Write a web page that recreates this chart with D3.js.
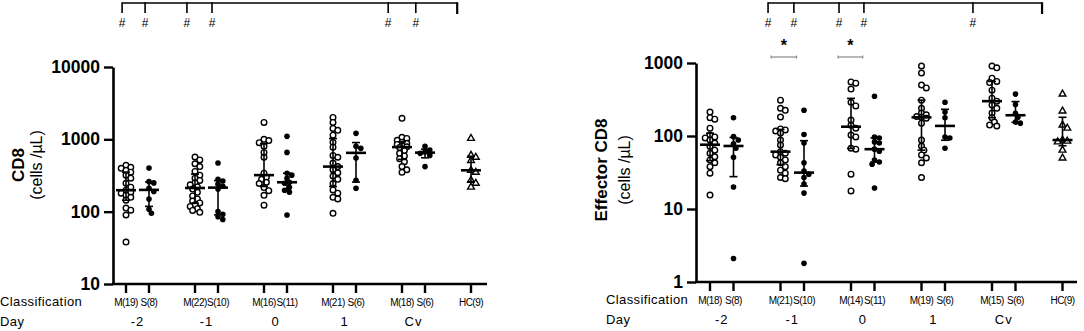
<!DOCTYPE html>
<html>
<head>
<meta charset="utf-8">
<script src="https://cdn.jsdelivr.net/npm/d3@7"></script>
<style>
  body { margin: 0; background: #fff; }
  svg { font-family: "Liberation Sans", Arial, sans-serif; }
</style>
</head>
<body>
<svg id="chart" width="1084" height="331"></svg>
<script>
// Group labels (slot = position along the x axis)
const groupLabelsCD8 = ["M(19)", "S(8)", "M(22)", "S(10)", "M(16)", "S(11)", "M(21)", "S(6)", "M(18)", "S(6)", "HC(9)"];
const groupLabelsEff = ["M(18)", "S(8)", "M(21)", "S(10)", "M(14)", "S(11)", "M(19)", "S(6)", "M(15)", "S(6)", "HC(9)"];
const groupSlots = [0, 1, 3, 4, 6, 7, 9, 10, 12, 13, 15];
const groupKinds = ["M", "S", "M", "S", "M", "S", "M", "S", "M", "S", "HC"];
const dayLabels = ["-2", "-1", "0", "1", "Cv"];
const daySlots = [0.5, 3.5, 6.5, 9.5, 12.5];

// CD8 (cells/uL)
const cd8Values = [
  [438, 411, 398, 373, 351, 319, 290, 247, 218, 198, 186, 180, 169, 158, 144, 112, 105, 90, 38],
  [400, 260, 250, 210, 190, 150, 108, 95],
  [570, 520, 460, 420, 360, 320, 290, 270, 250, 235, 220, 205, 185, 165, 150, 140, 132, 125, 118, 110, 104, 98],
  [470, 280, 265, 240, 225, 205, 100, 92, 85, 78],
  [1715, 1000, 960, 900, 800, 660, 565, 340, 300, 280, 255, 245, 215, 195, 168, 123],
  [1100, 660, 340, 320, 290, 255, 247, 218, 198, 186, 90],
  [2010, 1715, 1415, 1330, 1140, 910, 780, 600, 565, 470, 420, 380, 345, 310, 280, 245, 200, 180, 158, 150, 95],
  [1210, 800, 750, 550, 272, 211],
  [1950, 1065, 1030, 970, 910, 880, 850, 820, 790, 770, 700, 640, 590, 540, 490, 420, 380, 350],
  [800, 710, 670, 640, 600, 420],
  [1030, 600, 565, 510, 373, 350, 272, 247, 218]
];

// Effector CD8 (cells/uL)
const effValues = [
  [213, 178, 170, 128, 103, 97, 94, 88, 80, 72, 64, 58, 52, 47, 43, 38, 31, 15.5],
  [178, 98, 88, 78, 68, 51, 20, 2.1],
  [310, 240, 225, 182, 125, 121, 117, 110, 88, 75, 61, 58, 55, 51, 47, 43, 38, 34, 31, 27, 26],
  [225, 105, 80, 43, 33, 30, 27, 22, 16.5, 1.8],
  [550, 530, 440, 290, 258, 165, 140, 128, 103, 97, 68, 66, 30, 17.7],
  [350, 97, 94, 83, 80, 66, 62, 47, 44, 41, 19.4],
  [910, 730, 500, 455, 310, 240, 206, 195, 185, 180, 175, 150, 88, 73, 64, 55, 50, 43, 27],
  [290, 213, 178, 97, 94, 68],
  [910, 860, 620, 560, 540, 425, 330, 300, 265, 240, 206, 178, 155, 141, 137],
  [375, 270, 205, 180, 155, 150],
  [375, 220, 141, 128, 88, 85, 83, 64, 50]
];

const cd8Ticks = [10, 100, 1000, 10000];
const effTicks = [1, 10, 100, 1000];

// significance annotations (in slot units)
const cd8HashSlots = [-0.17, 0.83, 2.65, 3.74, 11.4, 12.6];
const cd8BracketEnd = 14.4;
const effHashSlots = [2.47, 3.57, 5.49, 6.55, 11.19];
const effBracketEnd = 14.13;
const effStarPairs = [[2.6, 3.68], [5.45, 6.5]];

const svg = d3.select("#chart");

// GraphPad-style percentile (n+1 basis)
function pct(sorted, p) {
  const n = sorted.length;
  const pos = p * (n + 1);
  if (pos <= 1) return sorted[0];
  if (pos >= n) return sorted[n - 1];
  const lo = Math.floor(pos), f = pos - lo;
  return sorted[lo - 1] + f * (sorted[lo] - sorted[lo - 1]);
}

// simple deterministic beeswarm offsets (points may overlap a little)
function swarm(ys, minDist, step, maxK) {
  const placed = [];
  return ys.map(y => {
    let best = 0, bestD = -1;
    for (let k = 0; k <= maxK; k++) {
      const dx = k === 0 ? 0 : (k % 2 ? 1 : -1) * Math.ceil(k / 2) * step;
      const d = placed.reduce((m, p) => Math.min(m, Math.hypot(p.x - dx, p.y - y)), Infinity);
      if (d >= minDist) { best = dx; bestD = d; break; }
      if (d > bestD) { bestD = d; best = dx; }
    }
    placed.push({ x: best, y });
    return best;
  });
}

function drawPanel(cfg) {
  const g = svg.append("g");
  const x = d3.scaleLinear().domain([0, 15]).range([cfg.x0, cfg.x1]);
  const y = d3.scaleLog().domain(cfg.yDomain).range([cfg.yBottom, cfg.yTop]);

  // y axis
  const yAxis = g.append("g")
    .attr("transform", `translate(${cfg.axisX},0)`)
    .call(d3.axisLeft(y).tickValues(cfg.ticks).tickFormat(d3.format("d")).tickSize(9).tickSizeOuter(0).tickPadding(4));
  yAxis.select(".domain").attr("stroke-width", 2.6);
  yAxis.selectAll(".tick line").attr("stroke-width", 2.4);
  yAxis.selectAll(".tick text").attr("font-size", 17.5).attr("font-weight", "bold").attr("fill", "#000");

  // x axis line + ticks
  g.append("line")
    .attr("x1", cfg.axisX - 1).attr("x2", cfg.axisEnd)
    .attr("y1", cfg.yBottom).attr("y2", cfg.yBottom)
    .attr("stroke", "#000").attr("stroke-width", 2.6);
  g.selectAll(".xt").data(groupSlots).enter().append("line")
    .attr("x1", d => x(d)).attr("x2", d => x(d))
    .attr("y1", cfg.yBottom).attr("y2", cfg.yBottom + 9)
    .attr("stroke", "#000").attr("stroke-width", 2.4);

  // y labels
  g.append("text")
    .attr("transform", `translate(${cfg.labelX},${cfg.labelY}) rotate(-90)`)
    .attr("text-anchor", "middle").attr("font-size", 17).attr("font-weight", "bold")
    .text(cfg.title);
  g.append("text")
    .attr("transform", `translate(${cfg.labelX + cfg.unitDx},${cfg.labelY}) rotate(-90)`)
    .attr("text-anchor", "middle").attr("font-size", 16)
    .text("(cells /\u00b5L)");

  // classification / day rows
  g.append("text").attr("x", cfg.rowLabelX).attr("y", cfg.yBottom + 22)
    .attr("font-size", 13).attr("letter-spacing", 0.4).text("Classification");
  g.append("text").attr("x", cfg.rowLabelX).attr("y", cfg.yBottom + 42)
    .attr("font-size", 13).attr("letter-spacing", 0.4).text("Day");
  g.selectAll(".gl").data(cfg.labels).enter().append("text")
    .attr("x", (d, i) => x(groupSlots[i]))
    .attr("y", cfg.yBottom + 22)
    .attr("text-anchor", "middle").attr("font-size", 10).attr("letter-spacing", -0.5)
    .text(d => d);
  g.selectAll(".dl").data(dayLabels).enter().append("text")
    .attr("x", (d, i) => x(daySlots[i]))
    .attr("y", cfg.yBottom + 42)
    .attr("text-anchor", "middle").attr("font-size", 13).attr("letter-spacing", 1)
    .text(d => d);

  // data groups
  cfg.values.forEach((vals, i) => {
    const cx = x(groupSlots[i]);
    const kind = groupKinds[i];
    const sortedDesc = vals.slice().sort((a, b) => b - a);
    const ys = sortedDesc.map(v => y(v));
    const offs = swarm(ys, 4.6, 2.4, 4);
    const asc = vals.slice().sort((a, b) => a - b);
    const med = d3.median(asc), q1 = pct(asc, 0.25), q3 = pct(asc, 0.75);

    const pts = g.append("g");
    sortedDesc.forEach((v, j) => {
      const px = cx + offs[j], py = ys[j];
      if (kind === "M") {
        pts.append("circle").attr("cx", px).attr("cy", py).attr("r", 2.8)
          .attr("fill", "#fff").attr("stroke", "#000").attr("stroke-width", 1.4);
      } else if (kind === "S") {
        pts.append("circle").attr("cx", px).attr("cy", py).attr("r", 2.8)
          .attr("fill", "#000");
      } else {
        pts.append("path").attr("d", d3.symbol(d3.symbolTriangle, 20)())
          .attr("transform", `translate(${px},${py})`)
          .attr("fill", "#fff").attr("stroke", "#000").attr("stroke-width", 1.4);
      }
    });

    // median + IQR
    const eb = g.append("g").attr("stroke", "#000");
    eb.append("line").attr("x1", cx).attr("x2", cx).attr("y1", y(q1)).attr("y2", y(q3)).attr("stroke-width", 1.6);
    [q1, q3].forEach(q => eb.append("line").attr("x1", cx - 4).attr("x2", cx + 4)
      .attr("y1", y(q)).attr("y2", y(q)).attr("stroke-width", 1.6));
    eb.append("line").attr("x1", cx - 10).attr("x2", cx + 10)
      .attr("y1", y(med)).attr("y2", y(med)).attr("stroke-width", 2.6);
  });

  // top bracket with hashes
  const bx = cfg.hashSlots.map(s => x(s));
  g.append("line").attr("x1", bx[0]).attr("x2", x(cfg.bracketEnd))
    .attr("y1", 3).attr("y2", 3).attr("stroke", "#000").attr("stroke-width", 1.6);
  bx.concat([x(cfg.bracketEnd)]).forEach((px, k) => {
    g.append("line").attr("x1", px).attr("x2", px).attr("y1", 2.2).attr("y2", k === bx.length ? 14 : 13)
      .attr("stroke", "#000").attr("stroke-width", k === bx.length ? 2.2 : 1.6);
  });
  bx.forEach(px => g.append("text").attr("x", px).attr("y", 27)
    .attr("text-anchor", "middle").attr("font-size", 12).text("#"));

  // star brackets
  (cfg.starPairs || []).forEach(([a, b]) => {
    const xa = x(a), xb = x(b);
    g.append("line").attr("x1", xa).attr("x2", xb).attr("y1", 57).attr("y2", 57)
      .attr("stroke", "#888").attr("stroke-width", 1.2);
    [xa, xb].forEach(px => g.append("line").attr("x1", px).attr("x2", px).attr("y1", 55.5).attr("y2", 58.5)
      .attr("stroke", "#888").attr("stroke-width", 1.2));
    g.append("text").attr("x", (xa + xb) / 2).attr("y", 51)
      .attr("text-anchor", "middle").attr("font-size", 16).attr("font-weight", "bold").text("*");
  });
}

drawPanel({
  values: cd8Values, labels: groupLabelsCD8, ticks: cd8Ticks,
  yDomain: [10, 10000], yBottom: 284, yTop: 67,
  x0: 126, x1: 471, axisX: 113, axisEnd: 487,
  title: "CD8", labelX: 24, unitDx: 18, labelY: 165, rowLabelX: 0,
  hashSlots: cd8HashSlots, bracketEnd: cd8BracketEnd
});

drawPanel({
  values: effValues, labels: groupLabelsEff, ticks: effTicks,
  yDomain: [1, 1000], yBottom: 282, yTop: 63,
  x0: 710, x1: 1062.5, axisX: 696, axisEnd: 1077,
  title: "Effector CD8", labelX: 607, unitDx: 23, labelY: 170, rowLabelX: 606,
  hashSlots: effHashSlots, bracketEnd: effBracketEnd, starPairs: effStarPairs
});
</script>
</body>
</html>
